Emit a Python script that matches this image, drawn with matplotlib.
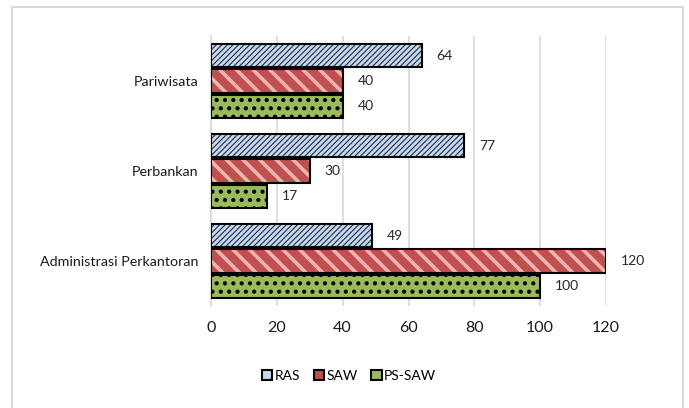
import matplotlib
matplotlib.use('Agg')
import matplotlib.pyplot as plt
import numpy as np
from matplotlib.patches import Patch, Rectangle

plt.rcParams['font.family'] = ['Lato', 'DejaVu Sans']

# data
categories = ['Administrasi Perkantoran', 'Perbankan', 'Pariwisata']
series = ['RAS', 'SAW', 'PS-SAW']
ras = [49, 77, 64]
saw = [120, 30, 40]
ps_saw = [100, 17, 40]
x_ticks = [0, 20, 40, 60, 80, 100, 120]

# styling per series: face, hatch colour, hatch, hatch line width
styles = {
    'RAS': ('#c6d9f1', '#1f2a3a', '//////', 0.8),
    'SAW': ('#c0504d', '#f0b4b2', '\\\\', 2.6),
    'PS-SAW': ('#9bbb59', '#000000', '..', 1.8),
}

fig = plt.figure(figsize=(6.89, 4.08), dpi=100)
ax = fig.add_axes([211 / 689, 1 - 306 / 408, 395 / 689, 270 / 408])

y = np.arange(len(categories))
h = 0.283
offsets = {'RAS': h, 'SAW': 0.0, 'PS-SAW': -h}
values = {'RAS': ras, 'SAW': saw, 'PS-SAW': ps_saw}

for name in series:
    face, hcol, hatch, hlw = styles[name]
    pos = y + offsets[name]
    bars = ax.barh(pos, values[name], height=h - 0.02, color=face,
                   edgecolor=hcol, hatch=hatch, linewidth=0, zorder=2)
    for b in bars:
        if hasattr(b, 'set_hatch_linewidth'):
            b.set_hatch_linewidth(hlw)
    ax.barh(pos, values[name], height=h - 0.02, fill=False,
            edgecolor='black', linewidth=1.5, zorder=3)
    for p, v in zip(pos, values[name]):
        ax.text(v + 4.5, p, str(v), va='center', ha='left',
                fontsize=10, color='#262626')

ax.set_xlim(0, 120)
ax.set_ylim(-0.5, 2.5)
ax.set_xticks(x_ticks)
ax.set_xticklabels([str(t) for t in x_ticks], fontsize=11.5, color='#1a1a1a')
ax.set_yticks(y)
ax.set_yticklabels(categories, fontsize=10.3, color='#1a1a1a')
ax.tick_params(axis='y', length=0, pad=9)
ax.tick_params(axis='x', length=0, pad=11)
ax.grid(axis='x', color='#d9d9d9', linewidth=1.2, zorder=0)
ax.set_axisbelow(True)
for s in ['top', 'right', 'bottom']:
    ax.spines[s].set_visible(False)
ax.spines['left'].set_color('#d9d9d9')
ax.spines['left'].set_linewidth(1.2)

handles = []
for name in series:
    face, hcol, hatch, hlw = styles[name]
    handles.append(Patch(facecolor=face, edgecolor='black', hatch='//' if name == 'RAS' else None,
                         linewidth=1.5, label=name))
fig.legend(handles=handles, loc='center', bbox_to_anchor=(349 / 689, 1 - 376 / 408),
           ncol=3, frameon=False, fontsize=10, handlelength=0.75, handleheight=0.75,
           handletextpad=0.15, columnspacing=1.0)

# chart border
fig.patches.append(Rectangle((12 / 689, -0.05), 671 / 689, 1 - 7 / 408 + 0.05,
                             transform=fig.transFigure, fill=False,
                             edgecolor='#d9d9d9', linewidth=1.5, clip_on=False))

fig.savefig('out.png', dpi=100)
